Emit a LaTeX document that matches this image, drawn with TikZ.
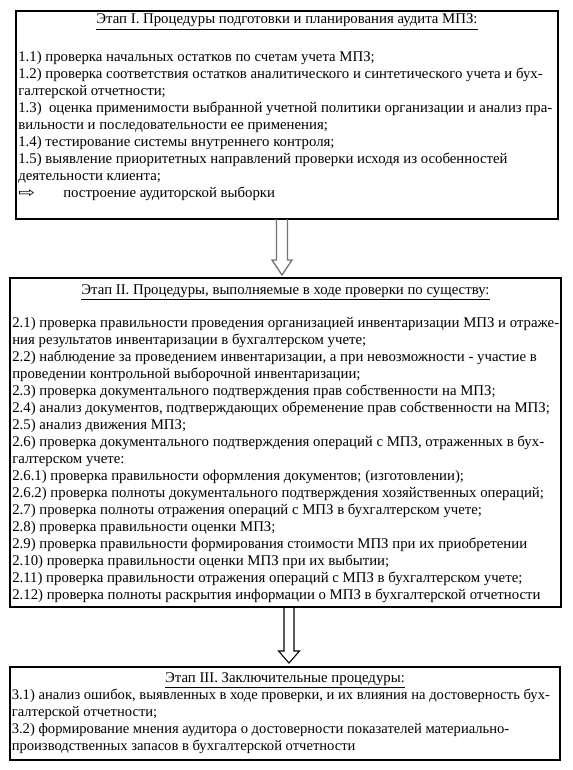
\documentclass[tikz,border=0pt]{standalone}
\usepackage{fontspec}
\usepackage{graphicx}
\setmainfont{Liberation Serif}
\newfontfamily\symfont{DejaVu Sans}
\usetikzlibrary{calc}
\begin{document}
\begin{tikzpicture}[x=0.75pt,y=-0.75pt,
  stagebox/.style={draw,line width=1pt,inner sep=0,outer sep=0,anchor=north west},
  bodytext/.style={anchor=north west,inner sep=0,align=left,font=\fontsize{11.1}{12.75}\selectfont},
  titletext/.style={anchor=base,inner sep=0,font=\fontsize{11.1}{12.75}\selectfont},
  hollowgray/.style={draw=black!55,line width=1pt,line join=miter},
  hollowblack/.style={draw=black,line width=0.8pt,line join=miter}]
\useasboundingbox (0,0) rectangle (572,770);

% boxes
\node[stagebox,minimum width=406.5pt,minimum height=156pt] (b1) at (16,11) {};
\node[stagebox,minimum width=413.25pt,minimum height=246.75pt] (b2) at (10,278) {};
\node[stagebox,minimum width=412.5pt,minimum height=69.75pt] (b3) at (10,667) {};

% titles
\node[titletext] (t1) at (287,24) {\underline{Этап I. Процедуры подготовки и планирования аудита МПЗ:}};
\node[titletext] (t2) at (285.5,294) {\underline{Этап II. Процедуры, выполняемые в ходе проверки по существу:}};
\node[titletext] (t3) at (285,682) {\underline{Этап III. Заключительные процедуры:}};

% bodies
\node[bodytext] (x1) at (18,49) {\rule{0pt}{9pt}1.1) проверка начальных остатков по счетам учета МПЗ;\\
1.2) проверка соответствия остатков аналитического и синтетического учета и бух-\\
галтерской отчетности;\\
1.3)\ \ оценка применимости выбранной учетной политики организации и анализ пра-\\
вильности и последовательности ее применения;\\
1.4) тестирование системы внутреннего контроля;\\
1.5) выявление приоритетных направлений проверки исходя из особенностей\\
деятельности клиента;\\
\makebox[33.75pt][l]{\scalebox{1.35}[0.95]{\symfont ⇨}}построение аудиторской выборки};

\node[bodytext] (x2) at (12,315) {\rule{0pt}{9pt}2.1) проверка правильности проведения организацией инвентаризации МПЗ и отраже-\\
ния результатов инвентаризации в бухгалтерском учете;\\
2.2) наблюдение за проведением инвентаризации, а при невозможности - участие в\\
проведении контрольной выборочной инвентаризации;\\
2.3) проверка документального подтверждения прав собственности на МПЗ;\\
2.4) анализ документов, подтверждающих обременение прав собственности на МПЗ;\\
2.5) анализ движения МПЗ;\\
2.6) проверка документального подтверждения операций с МПЗ, отраженных в бух-\\
галтерском учете:\\
2.6.1) проверка правильности оформления документов; (изготовлении);\\
2.6.2) проверка полноты документального подтверждения хозяйственных операций;\\
2.7) проверка полноты отражения операций с МПЗ в бухгалтерском учете;\\
2.8) проверка правильности оценки МПЗ;\\
2.9) проверка правильности формирования стоимости МПЗ при их приобретении\\
2.10) проверка правильности оценки МПЗ при их выбытии;\\
2.11) проверка правильности отражения операций с МПЗ в бухгалтерском учете;\\
2.12) проверка полноты раскрытия информации о МПЗ в бухгалтерской отчетности};

\node[bodytext,font=\fontsize{10.95}{12.75}\selectfont] (x3) at (11.5,687) {\rule{0pt}{9pt}3.1) анализ ошибок, выявленных в ходе проверки, и их влияния на достоверность бух-\\
галтерской отчетности;\\
3.2) формирование мнения аудитора о достоверности показателей материально-\\
производственных запасов в бухгалтерской отчетности};

% hollow arrows
\coordinate (a1s) at ($(b1.south west)+(266,0)$);
\coordinate (a1t) at ($(b2.north west)+(272,-3)$);
\draw[hollowgray] ($(a1s)+(-5.5,0)$) -- ($(a1t)+(-5.5,-15)$) -- ($(a1t)+(-10,-15)$) -- (a1t)
  -- ($(a1t)+(10,-15)$) -- ($(a1t)+(5.5,-15)$) -- ($(a1s)+(5.5,0)$);

\coordinate (a2s) at ($(b2.south west)+(279,0)$);
\coordinate (a2t) at ($(b3.north west)+(279,-4)$);
\draw[hollowblack] ($(a2s)+(-5,0)$) -- ($(a2t)+(-5,-12)$) -- ($(a2t)+(-10.5,-12)$) -- (a2t)
  -- ($(a2t)+(10.5,-12)$) -- ($(a2t)+(5,-12)$) -- ($(a2s)+(5,0)$);
\end{tikzpicture}
\end{document}
